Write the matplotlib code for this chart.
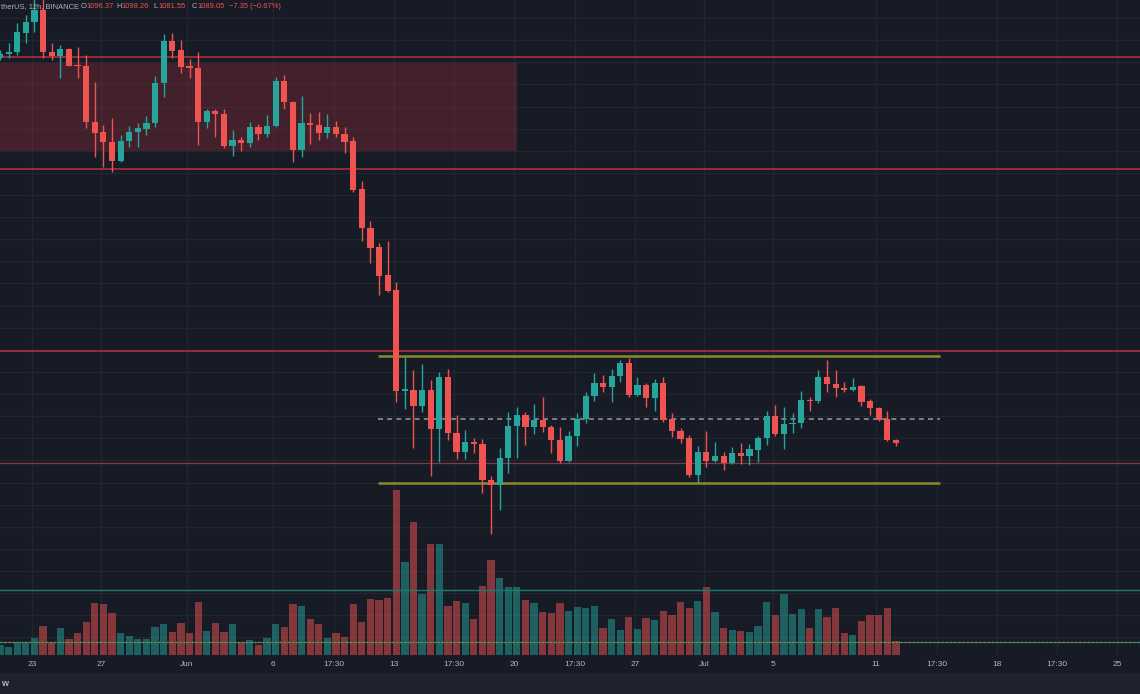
import numpy as np
import matplotlib
matplotlib.use('Agg')
import matplotlib.pyplot as plt
from matplotlib.patches import Rectangle

# ETH/USDT 12h candles, first bar ~May 21 (x in days since May 23)
first_bar = -1.857
bar_step = 0.5

opens = [1960, 1970, 1973, 2016, 2041, 2068, 1973, 1964, 1980, 1944,
         1942, 1815, 1793, 1770, 1727, 1772, 1793, 1799, 1813, 1903,
         1998, 1978, 1942, 1937, 1815, 1840, 1833, 1761, 1774, 1768,
         1804, 1788, 1806, 1908, 1860, 1752, 1813, 1808, 1790, 1804,
         1788, 1772, 1664, 1576, 1533, 1469, 1435, 1207, 1209, 1173,
         1209, 1121, 1239, 1112, 1069, 1092, 1087, 1006, 994, 1055,
         1128, 1153, 1126, 1141, 1126, 1096, 1049, 1105, 1144, 1196,
         1225, 1216, 1241, 1270, 1198, 1221, 1191, 1225, 1144, 1117,
         1101, 1017, 1069, 1049, 1060, 1044, 1067, 1060, 1074, 1101,
         1150, 1110, 1132, 1135, 1187, 1184, 1239, 1223, 1214, 1209,
         1218, 1184, 1169, 1144, 1096.37]
highs = [1978, 1994, 2039, 2057, 2095, 2098, 1994, 1989, 1982, 1985,
         1967, 1906, 1808, 1824, 1786, 1806, 1813, 1829, 1919, 2014,
         2016, 2001, 1958, 1973, 1845, 1845, 1845, 1797, 1781, 1815,
         1811, 1831, 1917, 1921, 1863, 1874, 1836, 1838, 1833, 1817,
         1804, 1781, 1682, 1591, 1542, 1546, 1453, 1284, 1254, 1268,
         1232, 1250, 1257, 1153, 1119, 1101, 1098, 1015, 1078, 1159,
         1171, 1159, 1178, 1193, 1130, 1126, 1116, 1157, 1205, 1248,
         1243, 1257, 1277, 1282, 1239, 1225, 1234, 1239, 1157, 1123,
         1108, 1083, 1116, 1092, 1069, 1080, 1089, 1087, 1105, 1162,
         1175, 1171, 1157, 1207, 1193, 1254, 1277, 1254, 1227, 1236,
         1221, 1189, 1171, 1162, 1098.26]
lows = [1955, 1960, 1967, 1994, 2019, 1960, 1955, 1915, 1941, 1915,
        1802, 1736, 1713, 1702, 1725, 1759, 1759, 1786, 1804, 1872,
        1960, 1926, 1915, 1763, 1802, 1781, 1756, 1738, 1750, 1759,
        1774, 1781, 1804, 1845, 1725, 1736, 1765, 1774, 1779, 1781,
        1745, 1657, 1546, 1496, 1424, 1431, 1182, 1166, 1078, 1159,
        1015, 1046, 1096, 1053, 1053, 1067, 976, 884, 938, 1022,
        1055, 1085, 1110, 1114, 1067, 1044, 1046, 1083, 1135, 1184,
        1205, 1182, 1227, 1193, 1196, 1171, 1162, 1137, 1103, 1089,
        1013, 999, 1035, 1046, 1028, 1042, 1042, 1040, 1046, 1085,
        1105, 1076, 1112, 1123, 1162, 1180, 1205, 1193, 1205, 1207,
        1173, 1153, 1139, 1094, 1081.55]
closes = [1969, 1974, 2019, 2041, 2068, 1973, 1964, 1980, 1942, 1942,
          1815, 1790, 1770, 1727, 1772, 1793, 1802, 1813, 1903, 1998,
          1976, 1940, 1937, 1815, 1840, 1833, 1761, 1774, 1768, 1804,
          1788, 1806, 1908, 1860, 1752, 1813, 1808, 1790, 1804, 1788,
          1770, 1661, 1576, 1530, 1467, 1433, 1207, 1211, 1173, 1209,
          1121, 1239, 1112, 1069, 1092, 1087, 1006, 994, 1055, 1128,
          1153, 1126, 1141, 1126, 1096, 1049, 1105, 1144, 1196, 1225,
          1216, 1241, 1270, 1198, 1221, 1191, 1225, 1141, 1117, 1098,
          1017, 1069, 1049, 1060, 1044, 1067, 1060, 1076, 1101, 1150,
          1110, 1132, 1135, 1187, 1184, 1239, 1223, 1214, 1209, 1216,
          1182, 1169, 1141, 1096, 1089.05]
# volume, thousand ETH
volumes = [100, 80, 130, 130, 170, 290, 130, 270, 160, 220,
           330, 520, 510, 420, 220, 190, 160, 160, 280, 310,
           230, 320, 220, 530, 240, 320, 230, 310, 130, 150,
           100, 170, 310, 280, 510, 490, 360, 310, 170, 220,
           180, 510, 330, 560, 550, 570, 1650, 930, 1330, 610,
           1110, 1110, 490, 540, 520, 360, 690, 950, 770, 680,
           680, 550, 520, 430, 420, 520, 440, 480, 470, 490,
           270, 360, 250, 380, 260, 370, 350, 440, 400, 530,
           470, 540, 680, 430, 270, 250, 240, 230, 290, 530,
           400, 610, 410, 460, 270, 460, 380, 470, 220, 200,
           340, 400, 400, 470, 140]

tick_days = [0, 4, 9, 14, 17.5, 21, 24.5, 28, 31.5, 35, 39, 43, 49, 52.5, 56, 59.5, 63]
tick_labels = ['23', '27', 'Jun', '6', '17:30', '13', '17:30', '20', '17:30',
               '27', 'Jul', '5', '11', '17:30', '18', '17:30', '25']

red_levels = [1962, 1709, 1297]
thin_level = 1044
zone_low, zone_high, zone_end = 1750, 1949, 28.15
range_high, range_mid, range_low = 1286, 1144, 999
range_start, range_end = 20.08, 52.70
vol_levels = [650, 130]

BG = '#171b26'
GRID = '#222631'
UP = '#26a69a'
DOWN = '#ef5350'
TXT = '#b2b5be'
FONT = 'Liberation Sans'

W, H = 1140, 694
fig = plt.figure(figsize=(W / 100, H / 100), dpi=100, facecolor=BG)
rect = [0, 39 / H, 1, 655 / H]
ax = fig.add_axes(rect, facecolor=BG)
ax.set_axisbelow(True)
vax = ax.twinx()

o = np.array(opens, float)
hi = np.array(highs, float)
lo = np.array(lows, float)
c = np.array(closes, float)
t = first_bar + bar_step * np.arange(len(o))
up = c >= o
cols = np.where(up, UP, DOWN)

# grid
ax.set_xticks(tick_days)
ax.set_xticklabels(tick_labels)
ax.set_yticks(np.arange(650, 2100, 50))
ax.grid(True, color=GRID, lw=0.9)
ax.tick_params(axis='x', length=0, pad=4, labelsize=6.0, colors=TXT)
ax.tick_params(axis='y', length=0, labelleft=False)
for lab in ax.get_xticklabels():
    lab.set_fontfamily(FONT)
for sp in list(ax.spines.values()) + list(vax.spines.values()):
    sp.set_visible(False)

ax.set_xlim(first_bar, 64.31)
ax.set_ylim(610, 2091)

# supply zone and levels
ax.add_patch(Rectangle((first_bar - 1, zone_low), zone_end - first_bar + 1, zone_high - zone_low,
                       facecolor='#f23645', alpha=0.2, edgecolor='none', zorder=1))
for lv in red_levels:
    ax.axhline(lv, color='#a0303a', lw=1.3, zorder=2)
ax.axhline(thin_level, color='#7d3a42', lw=0.9, zorder=2)
ax.hlines([range_high, range_low], range_start, range_end, color='#8a8a2c', lw=1.8, zorder=2)
ax.hlines(range_mid, range_start, range_end, color='#8d9099', lw=1.2,
          linestyles=(0, (3, 2.5)), zorder=2)

# candles
body = c - o
min_h = 2.4
body = np.where(np.abs(body) < min_h, np.where(up, min_h, -min_h), body)
ax.vlines(t, lo, hi, colors=cols, lw=1.0, zorder=3)
ax.bar(t, body, bottom=o, width=0.36, color=cols, edgecolor='none', zorder=4)

# volume overlay
vax.set_ylim(0, 6550)
vax.set_yticks([])
vax.bar(t, volumes, width=0.42, color=cols, alpha=0.5, edgecolor='none', zorder=1)
vax.axhline(vol_levels[0], color='#1f7a70', lw=1.0)
vax.axhline(vol_levels[1], color='#7a6a30', lw=0.8)
vax.axhline(vol_levels[1], color='#26a69a', lw=1.0, ls=(0, (1, 2)))

# bottom strip
fig.patches.append(Rectangle((0, 0), 1, 21 / H, transform=fig.transFigure,
                             facecolor='#1e222d', edgecolor='none', zorder=0))
fig.text(1 / W, 1 - 683 / H, 'w', color=TXT, fontsize=6.5, fontweight='bold',
         family=FONT, va='center', ha='left')

# legend line at top
ty = 1 - 8.5 / H
fs = 5.4
fig.text(1 / W, ty, 'therUS, 12h, BINANCE', color=TXT, fontsize=fs, family=FONT,
         va='baseline', ha='left')
parts = [(81, 'O', '1096.37'), (116, 'H', '1098.26'), (153, 'L', '1081.55'), (192, 'C', '1089.05')]
for px, k, v in parts:
    fig.text(px / W, ty, k, color=TXT, fontsize=fs, family=FONT, va='baseline')
    fig.text((px + 5.5) / W, ty, v, color=DOWN, fontsize=fs, family=FONT, va='baseline')
fig.text(229 / W, ty, '\u22127.35 (\u22120.67%)', color=DOWN, fontsize=fs,
         family=FONT, va='baseline')

fig.savefig('out.png', dpi=100, facecolor=BG)
